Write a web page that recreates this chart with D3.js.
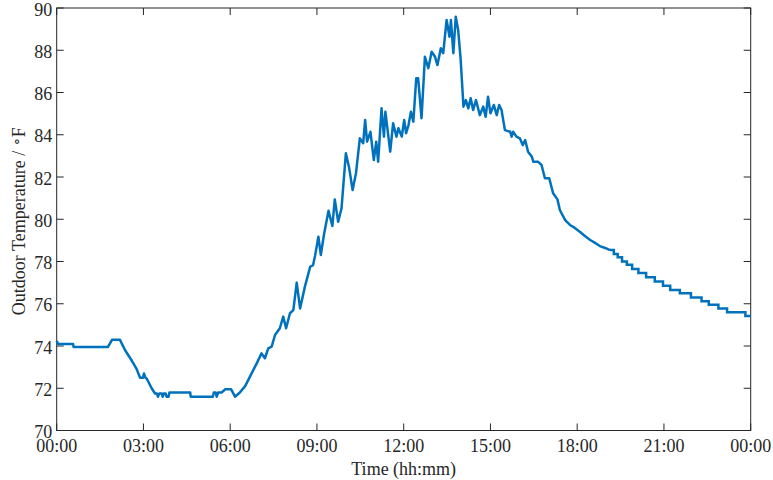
<!DOCTYPE html>
<html>
<head>
<meta charset="utf-8">
<script src="https://cdn.jsdelivr.net/npm/d3@7"></script>
<style>
  body { margin: 0; background: #fff; }
  text { font-family: "Liberation Serif", "Times New Roman", serif; fill: #262626; }
</style>
</head>
<body>
<div id="chart"></div>
<script>
// minutes after midnight and outdoor temperature (°F)
var minutes = [0, 3, 34, 35, 106, 110, 115, 131, 142, 156, 166, 173, 179, 181, 184, 187, 197, 204, 208, 210, 213, 218, 220, 222, 226, 228, 232, 234, 277, 278, 324, 326, 330, 332, 335, 342, 350, 362, 370, 380, 391,
  401, 415, 425, 432, 439, 446, 453, 463, 470, 476, 484, 491, 498, 505, 515, 526, 532, 536, 543, 548, 555, 564, 572, 577, 584, 591,
  600, 607, 614, 621, 629, 636, 640, 644, 651, 658, 663, 667, 674, 679, 682, 692, 698, 705, 709, 716, 721, 725, 730, 735, 740, 746, 750, 757,
  764, 771, 778, 785, 790, 797, 802, 809, 815, 818, 823, 828, 833, 838, 844, 849, 854, 859, 864, 870, 878, 885, 890, 895, 900, 907, 913, 918, 923,
  930, 941, 944, 947, 954, 961, 967, 972, 978, 986, 989, 999, 1006, 1013, 1022, 1030, 1039, 1044, 1055, 1065, 1075, 1086, 1096, 1107, 1117, 1127, 1138, 1148];
var tempF = [74.24, 74.1, 74.1, 73.95, 73.95, 74.1, 74.3, 74.3, 73.8, 73.3, 72.9, 72.5, 72.5, 72.7, 72.5, 72.45, 72.0, 71.75, 71.75, 71.6, 71.75, 71.75, 71.6, 71.75, 71.75, 71.6, 71.6, 71.8, 71.8, 71.6, 71.6, 71.8, 71.8, 71.6, 71.8, 71.8, 71.95, 71.95, 71.6, 71.8, 72.1,
  72.55, 73.18, 73.65, 73.42, 73.89, 73.97, 74.52, 74.84, 75.39, 74.84, 75.55, 75.7, 77.0, 75.78, 76.81, 77.75, 77.83, 78.26, 79.17, 78.31, 79.33, 80.4, 79.68, 80.94, 79.88, 80.52,
  83.12, 82.41, 81.38, 82.18, 83.83, 83.6, 84.7, 83.67, 84.14, 82.8, 83.67, 82.72, 85.25, 83.91, 85.09, 83.2, 84.54, 83.91, 84.31, 83.91, 84.7, 84.07, 84.46, 85.09, 84.62, 86.67, 86.67, 84.78,
  87.69, 87.15, 87.93, 87.69, 87.3, 88.09, 87.86, 89.43, 88.64, 89.43, 87.86, 89.59, 88.96, 87.62, 85.33, 85.64, 85.25, 85.73, 85.17, 85.64, 84.93, 85.33, 84.85, 85.8, 85.02, 85.41, 84.93, 85.41, 85.17,
  84.22, 84.14, 83.91, 84.14, 83.91, 83.83, 83.51, 83.75, 83.2, 82.96, 82.72, 82.72, 82.57, 81.94, 81.94, 81.23, 80.94, 80.44, 79.96, 79.73, 79.59, 79.4, 79.21, 79.02, 78.88, 78.73, 78.64, 78.54];

// evening cool-down is a staircase: each value holds from its minute onwards
var stepMinutes = [1148, 1156, 1164, 1173, 1183, 1194, 1207, 1223, 1241, 1258, 1273, 1293, 1316, 1338, 1353, 1373, 1391, 1429, 1440];
var stepTempF = [78.54, 78.35, 78.2, 78.0, 77.85, 77.65, 77.45, 77.25, 77.05, 76.85, 76.65, 76.5, 76.3, 76.12, 75.95, 75.78, 75.6, 75.42, 75.42];

var xTicks = [0, 180, 360, 540, 720, 900, 1080, 1260, 1440];
var yTicks = [70, 72, 74, 76, 78, 80, 82, 84, 86, 88, 90];

var W = 773, H = 480;
var margin = { top: 8, right: 22.3, bottom: 49.5, left: 56.7 };
var width = W - margin.left - margin.right;
var height = H - margin.top - margin.bottom;

var svg = d3.select("#chart").append("svg")
  .attr("width", W)
  .attr("height", H);

var g = svg.append("g")
  .attr("transform", "translate(" + margin.left + "," + margin.top + ")");

var x = d3.scaleLinear().domain([0, 1440]).range([0, width]);
var y = d3.scaleLinear().domain([70, 90]).range([height, 0]);

var fmt = function (m) {
  var h = Math.floor(m / 60) % 24;
  var mm = m % 60;
  return (h < 10 ? "0" : "") + h + ":" + (mm < 10 ? "0" : "") + mm;
};

var axisColor = "#262626";
var tickLen = 7;

// box
g.append("rect")
  .attr("width", width)
  .attr("height", height)
  .attr("fill", "none")
  .attr("stroke", axisColor)
  .attr("stroke-width", 1);

// inward ticks on all four sides
xTicks.forEach(function (t) {
  g.append("line").attr("x1", x(t)).attr("x2", x(t)).attr("y1", height).attr("y2", height - tickLen)
    .attr("stroke", axisColor);
  g.append("line").attr("x1", x(t)).attr("x2", x(t)).attr("y1", 0).attr("y2", tickLen)
    .attr("stroke", axisColor);
  g.append("text").attr("x", x(t)).attr("y", height + 21.5)
    .attr("text-anchor", "middle").style("font-size", "18px").text(fmt(t));
});
yTicks.forEach(function (t) {
  g.append("line").attr("x1", 0).attr("x2", tickLen).attr("y1", y(t)).attr("y2", y(t))
    .attr("stroke", axisColor);
  g.append("line").attr("x1", width).attr("x2", width - tickLen).attr("y1", y(t)).attr("y2", y(t))
    .attr("stroke", axisColor);
  g.append("text").attr("x", -4.5).attr("y", y(t) + 7.5)
    .attr("text-anchor", "end").style("font-size", "18px").text(t);
});

// axis labels
g.append("text")
  .attr("x", width / 2).attr("y", height + 44)
  .attr("text-anchor", "middle").style("font-size", "18px")
  .text("Time (hh:mm)");

var yLabel = g.append("text")
  .attr("transform", "translate(-32," + (height / 2 + 2) + ") rotate(-90)")
  .attr("text-anchor", "middle").style("font-size", "18px");
yLabel.append("tspan").text("Outdoor Temperature / ");
yLabel.append("tspan").attr("dy", -4).style("font-size", "14px").text("\u2218");
yLabel.append("tspan").attr("dy", 4).text("F");

// temperature trace
var data = minutes.map(function (m, i) { return [m, tempF[i]]; });
var steps = stepMinutes.map(function (m, i) { return [m, stepTempF[i]]; });

var line = d3.line().x(function (d) { return x(d[0]); }).y(function (d) { return y(d[1]); });
var stepLine = d3.line().curve(d3.curveStepAfter)
  .x(function (d) { return x(d[0]); }).y(function (d) { return y(d[1]); });

g.append("path").datum(data)
  .attr("d", line)
  .attr("fill", "none")
  .attr("stroke", "#0072BD")
  .attr("stroke-width", 2.5)
  .attr("stroke-linejoin", "round");

g.append("path").datum(steps)
  .attr("d", stepLine)
  .attr("fill", "none")
  .attr("stroke", "#0072BD")
  .attr("stroke-width", 2.5);
</script>
</body>
</html>
